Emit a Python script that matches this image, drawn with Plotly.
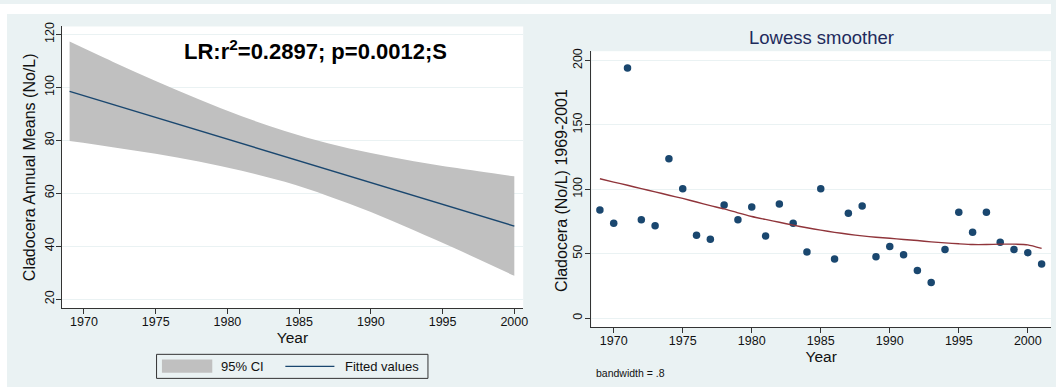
import plotly.graph_objects as go

# ---------------- data ----------------
# Left panel: linear fit with 95% CI
fit_years = [1969, 2000]
fit_values = [98.5, 47.6]
ci_years = [1969, 1972, 1975, 1978, 1981, 1984, 1987, 1990, 1993, 1996, 2000]
ci_upper = [117.3, 109.7, 102.4, 95.5, 89.1, 83.5, 78.9, 75.2, 72.1, 69.5, 66.4]
ci_lower = [79.7, 77.4, 74.9, 72.0, 68.5, 64.3, 59.0, 52.9, 46.0, 38.8, 28.8]

# Right panel: annual means and lowess smoother
years = list(range(1969, 2002))
cladocera = [83.9, 73.7, 194.1, 76.3, 71.7, 123.7, 100.5, 64.3, 61.2, 87.8,
             76.3, 86.2, 63.8, 88.5, 73.7, 51.3, 100.5, 45.9, 81.4, 87.0,
             47.7, 55.6, 49.2, 37.0, 27.6, 53.3, 82.1, 66.6, 82.1, 58.9,
             53.3, 50.8, 42.1]
lowess = [108.2, 105.6, 103.1, 100.5, 98.0, 95.4, 92.9, 90.1, 87.3, 84.8,
          81.7, 78.9, 76.6, 74.4, 72.2, 70.1, 68.3, 66.6, 65.1, 63.8,
          62.8, 62.0, 61.0, 60.2, 59.2, 58.4, 57.7, 57.1, 57.1, 57.4,
          57.4, 56.9, 54.1]

left_yticks = [20, 40, 60, 80, 100, 120]
right_yticks = [0, 50, 100, 150, 200]
xticks = [1970, 1975, 1980, 1985, 1990, 1995, 2000]

# ---------------- styling ----------------
W, H = 1056, 387
FONT = "Liberation Sans, Arial, Helvetica, sans-serif"
BG = "#eaf2f3"
NAVY = "#1a476f"
MAROON = "#90353b"
CI_GREY = "#c0c0c0"
AXIS = "#333333"
TXT = "#111111"

def px_x(p):
    return p / W

def px_y(p):
    return (H - p) / H

fig = go.Figure()

# CI band
fig.add_trace(go.Scatter(x=ci_years, y=ci_lower, mode="lines",
                         line=dict(width=0, color=CI_GREY, shape="spline"),
                         xaxis="x", yaxis="y", showlegend=False, hoverinfo="skip"))
fig.add_trace(go.Scatter(x=ci_years, y=ci_upper, mode="lines",
                         line=dict(width=0, color=CI_GREY, shape="spline"),
                         fill="tonexty", fillcolor=CI_GREY,
                         xaxis="x", yaxis="y", showlegend=False, name="95% CI"))
# Fitted line
fig.add_trace(go.Scatter(x=fit_years, y=fit_values, mode="lines",
                         line=dict(width=1.4, color=NAVY),
                         xaxis="x", yaxis="y", showlegend=False, name="Fitted values"))

# Right panel
fig.add_trace(go.Scatter(x=years, y=cladocera, mode="markers",
                         marker=dict(size=7.5, color=NAVY, line=dict(width=0)),
                         xaxis="x2", yaxis="y2", showlegend=False))
fig.add_trace(go.Scatter(x=years, y=lowess, mode="lines",
                         line=dict(width=1.4, color=MAROON, shape="spline", smoothing=0.6),
                         xaxis="x2", yaxis="y2", showlegend=False))

tickfont = dict(family=FONT, size=12.5, color=TXT)
xtitlefont = dict(family=FONT, size=15.5, color=TXT)

common_axis = dict(showline=True, linecolor=AXIS, linewidth=1, ticks="outside",
                   ticklen=5, tickcolor=AXIS, tickwidth=1, tickfont=tickfont,
                   zeroline=False, mirror=False)

fig.update_layout(
    width=W, height=H,
    margin=dict(l=0, r=0, t=0, b=0),
    paper_bgcolor=BG,
    plot_bgcolor="white",
    showlegend=False,
    xaxis=dict(domain=[px_x(62), px_x(525.7)], range=[1968.45, 2000.62],
               tickvals=xticks, showgrid=False, anchor="y", ticklabelstandoff=-3,
               title=dict(text="Year", font=xtitlefont, standoff=4),
               **common_axis),
    yaxis=dict(domain=[px_y(307.3), px_y(22.7)], range=[16.6, 123.0],
               tickvals=left_yticks, tickangle=-90, showgrid=True, gridcolor=BG, gridwidth=1,
               anchor="x", ticklabelstandoff=-3,
               **common_axis),
    xaxis2=dict(domain=[px_x(594.3), 1.0], range=[1968.39, 2001.68],
                tickvals=xticks, showgrid=False, anchor="y2", ticklabelstandoff=-3,
                title=dict(text="Year", font=xtitlefont, standoff=4),
                **common_axis),
    yaxis2=dict(domain=[px_y(326.5), px_y(47.7)], range=[-7.0, 207.2],
                tickvals=right_yticks, tickangle=-90, showgrid=True, gridcolor=BG, gridwidth=1,
                anchor="x2", ticklabelstandoff=-2,
                **common_axis),
)

# white page strips around the grey-blue graph region
shapes = [
    dict(type="rect", xref="paper", yref="paper", x0=0, x1=1, y0=px_y(10), y1=1,
         fillcolor="white", line=dict(width=0), layer="below"),
    dict(type="rect", xref="paper", yref="paper", x0=0, x1=px_x(7), y0=0, y1=1,
         fillcolor="white", line=dict(width=0), layer="below"),
    # legend box (left panel)
    dict(type="rect", xref="paper", yref="paper", x0=px_x(157.3), x1=px_x(430),
         y0=px_y(378.3), y1=px_y(354), fillcolor=BG, line=dict(width=1, color=AXIS)),
    dict(type="rect", xref="paper", yref="paper", x0=px_x(162.7), x1=px_x(213.3),
         y0=px_y(372.7), y1=px_y(359.3), fillcolor=CI_GREY, line=dict(width=0)),
    dict(type="line", xref="paper", yref="paper", x0=px_x(286.7), x1=px_x(336),
         y0=px_y(366.2), y1=px_y(366.2), line=dict(width=1.4, color=NAVY)),
]
fig.update_layout(shapes=shapes)

annotations = [
    # y-axis titles
    dict(text="Cladocera Annual Means (No/L)", xref="paper", yref="paper",
         x=px_x(29.5), y=px_y(164.5), xanchor="center", yanchor="middle", textangle=-90,
         showarrow=False, font=dict(family=FONT, size=16, color=TXT)),
    dict(text="Cladocera (No/L) 1969-2001", xref="paper", yref="paper",
         x=px_x(563.5), y=px_y(188), xanchor="center", yanchor="middle", textangle=-90,
         showarrow=False, font=dict(family=FONT, size=16, color=TXT)),
    # legend labels
    dict(text="95% CI", xref="paper", yref="paper", x=px_x(220), y=px_y(366.2),
         xanchor="left", yanchor="middle", showarrow=False,
         font=dict(family=FONT, size=13, color=TXT)),
    dict(text="Fitted values", xref="paper", yref="paper", x=px_x(344.5), y=px_y(366.2),
         xanchor="left", yanchor="middle", showarrow=False,
         font=dict(family=FONT, size=13, color=TXT)),
    dict(text="<b>LR:r<sup>2</sup>=0.2897; p=0.0012;S</b>", xref="paper", yref="paper",
         x=px_x(317), y=px_y(46), xanchor="center", yanchor="middle", showarrow=False,
         font=dict(family=FONT, size=22, color="#000000")),
    dict(text="Lowess smoother", xref="paper", yref="paper",
         x=px_x(825), y=px_y(33.5), xanchor="center", yanchor="middle", showarrow=False,
         font=dict(family=FONT, size=18.5, color="#1e2b5c")),
    dict(text="bandwidth = .8", xref="paper", yref="paper",
         x=px_x(596.5), y=px_y(372.5), xanchor="left", yanchor="middle", showarrow=False,
         font=dict(family=FONT, size=10.5, color=TXT)),
]
fig.update_layout(annotations=annotations)

fig.write_html("out.html")
